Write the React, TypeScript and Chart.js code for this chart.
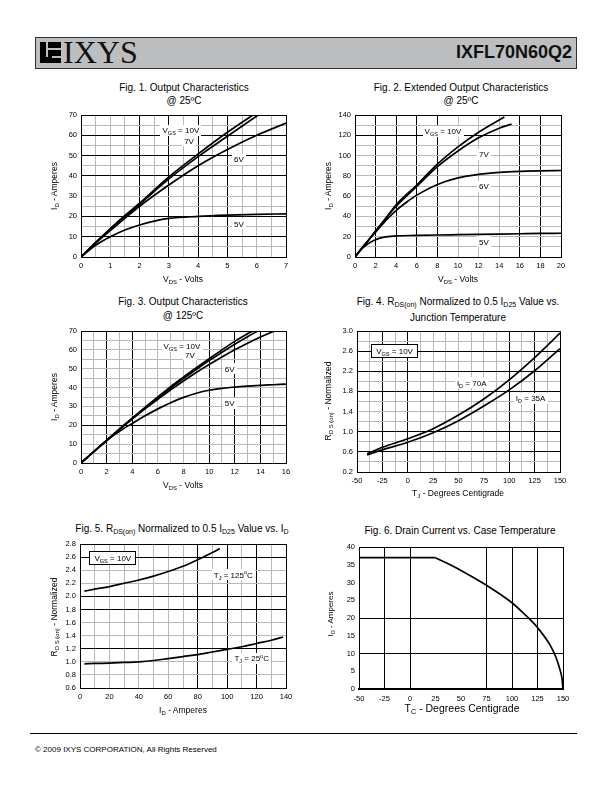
import React, { useEffect, useRef } from 'react';
import { Chart, registerables } from 'chart.js';

Chart.register(...registerables);

const FONT = "'Liberation Sans', Arial, Helvetica, sans-serif";
const GREY = '#b8b8b8';
const BLACK = '#000000';
const NONE = 'rgba(0,0,0,0)';

// ---------------- Fig. 1 Output characteristics @25C ----------------
const f1X10V = [0, 0.5, 1, 1.5, 2, 3, 4, 5, 5.87];
const f1Y10V = [0, 7.2, 14, 20.5, 26.5, 39.5, 50.8, 61.5, 70];
const f1X7V = [0, 0.5, 1, 1.5, 2, 3, 4, 5, 6.05];
const f1Y7V = [0, 7, 13.6, 20, 26, 38.5, 49.5, 59.5, 70];
const f1X6V = [0, 0.5, 1, 2, 3, 4, 5, 6, 7];
const f1Y6V = [0, 6.8, 13, 25, 35.5, 45, 53, 60, 66];
const f1X5V = [0, 0.5, 1, 1.5, 2, 2.5, 3, 4, 5, 6, 7];
const f1Y5V = [0, 5.8, 10, 13.3, 15.8, 17.7, 19, 20, 20.6, 21, 21.3];

// ---------------- Fig. 2 Extended output characteristics @25C ----------------
const f2X10V = [0, 1, 2, 3, 4, 6, 8, 10, 12, 14.5];
const f2Y10V = [0, 12.5, 25.5, 38.5, 51.5, 71, 91.5, 108.5, 123, 138];
const f2X7V = [0, 1, 2, 3, 4, 6, 8, 10, 12, 14, 15.2];
const f2Y7V = [0, 12.5, 25.5, 38, 50, 69.5, 89, 104.5, 117.5, 127, 131];
const f2X6V = [0, 1, 2, 3, 4, 5, 6, 8, 10, 12, 14, 16, 18, 20];
const f2Y6V = [0, 13, 24.5, 36, 46, 54, 61, 71.5, 78, 81.5, 83.5, 84.5, 85, 85.3];
const f2X5V = [0, 0.5, 1, 1.5, 2, 2.5, 3, 4, 6, 8, 10, 12, 14, 16, 18, 20];
const f2Y5V = [0, 6.5, 11, 14.5, 17, 18.8, 19.8, 20.8, 21.3, 21.7, 22, 22.3, 22.6, 22.9, 23.2, 23.4];

// ---------------- Fig. 3 Output characteristics @125C ----------------
const f3X10V = [0, 1, 2, 3, 4, 5, 6, 7, 8, 9, 10, 11, 12, 13, 13.4];
const f3Y10V = [0, 6, 12, 18, 23.8, 29.5, 35, 40.5, 45.5, 50.5, 55.3, 60, 64.5, 68.5, 70];
const f3X7V = [0, 1, 2, 3, 4, 5, 6, 7, 8, 9, 10, 11, 12, 13, 13.8];
const f3Y7V = [0, 6, 12, 18, 23.6, 29.2, 34.6, 39.8, 44.8, 49.6, 54.3, 58.7, 63, 67, 70];
const f3X6V = [0, 1, 2, 3, 4, 5, 6, 7, 8, 9, 10, 11, 12, 13, 14, 15.1];
const f3Y6V = [0, 6, 12, 17.8, 23.3, 28.7, 33.8, 38.8, 43.5, 48, 52.2, 56.2, 60, 63.5, 66.8, 70];
const f3X5V = [0, 1, 2, 3, 4, 5, 6, 7, 8, 9, 10, 11, 12, 13, 14, 15, 16];
const f3Y5V = [0, 6, 11.8, 16.8, 21, 25, 28.7, 32, 34.8, 37, 38.6, 39.6, 40.3, 40.8, 41.2, 41.5, 41.8];

// ---------------- Fig. 4 RDS(on) vs junction temperature ----------------
const f4Tj = [-40, -25, 0, 25, 50, 75, 100, 125, 150];
const f4R70A = [0.56, 0.69, 0.86, 1.06, 1.33, 1.65, 2.03, 2.47, 2.96];
const f4R35A = [0.54, 0.64, 0.79, 0.98, 1.22, 1.51, 1.83, 2.21, 2.65];

// ---------------- Fig. 5 RDS(on) vs ID ----------------
const f5Id125 = [3, 10, 20, 30, 40, 50, 60, 70, 80, 90, 95];
const f5R125 = [2.08, 2.11, 2.15, 2.2, 2.25, 2.31, 2.38, 2.46, 2.56, 2.67, 2.73];
const f5Id25 = [3, 10, 20, 30, 40, 50, 60, 70, 80, 90, 100, 110, 120, 130, 138];
const f5R25 = [0.97, 0.975, 0.98, 0.99, 1.0, 1.02, 1.05, 1.08, 1.11, 1.15, 1.19, 1.23, 1.28, 1.33, 1.38];

// ---------------- Fig. 6 Drain current vs case temperature ----------------
const f6TcFlat = [-50, 25];
const f6IdFlat = [37, 37];
const f6TcCurve = [25, 50, 75, 100, 112.5, 125, 137.5, 143, 147, 149, 150];
const f6IdCurve = [37, 33.4, 29.2, 24.3, 21, 17.3, 12.3, 9, 5.5, 3, 0];

// ---------------- types & helpers ----------------
type Seg = { t: string; sub?: boolean; sup?: boolean };
type Note = { x: number; y: number; parts: Seg[]; box?: boolean };
type AxisSpec = {
  min: number; max: number; step: number;
  labelStart: number; labelStep: number; decimals: number;
  black: number[]; grey: boolean;
};
type Curve = { xs: number[]; ys: number[]; straight?: boolean };
type PanelSpec = {
  rect: [number, number, number, number];
  x: AxisSpec; y: AxisSpec;
  curves: Curve[];
  notes: Note[];
  xBorder?: number;
  xPad?: number;
};

const near = (v: number, arr: number[]) => arr.some((a) => Math.abs(a - v) < 1e-6);
const isMult = (v: number, start: number, step: number) => {
  const k = (v - start) / step;
  return Math.abs(k - Math.round(k)) < 1e-6;
};

const vgs10: Seg[] = [{ t: 'V' }, { t: 'GS', sub: true }, { t: ' = 10V' }];

function axisOptions(a: AxisSpec, isX: boolean, size: number, pad: number, borderW: number) {
  return {
    type: 'linear',
    min: a.min,
    max: a.max,
    afterFit: (s: any) => {
      if (isX) s.height = size;
      else s.width = size;
    },
    border: { display: true, color: BLACK, width: borderW },
    grid: {
      drawTicks: false,
      lineWidth: 1,
      color: (c: any) => {
        const v = c.tick ? c.tick.value : undefined;
        if (v === undefined) return NONE;
        return near(v, a.black) ? BLACK : a.grey ? GREY : NONE;
      },
    },
    ticks: {
      stepSize: a.step,
      autoSkip: false,
      maxRotation: 0,
      minRotation: 0,
      padding: pad,
      color: BLACK,
      font: { family: FONT, size: 7.5 },
      callback: (v: any) => (isMult(Number(v), a.labelStart, a.labelStep) ? Number(v).toFixed(a.decimals) : ''),
    },
  };
}

function notesPlugin(notes: Note[]) {
  return {
    id: 'notes',
    afterDatasetsDraw(chart: any) {
      const ctx = chart.ctx;
      const xs = chart.scales.x;
      const ys = chart.scales.y;
      const FS = 8;
      const SS = 5.6;
      notes.forEach((n) => {
        const cx = xs.getPixelForValue(n.x);
        const cy = ys.getPixelForValue(n.y);
        ctx.save();
        const widths = n.parts.map((p) => {
          ctx.font = `${p.sub || p.sup ? SS : FS}px ${FONT}`;
          return ctx.measureText(p.t).width;
        });
        const tw = widths.reduce((s, w) => s + w, 0);
        const padX = n.box ? 5 : 2;
        const padY = n.box ? 3 : 1.5;
        const x0 = Math.round(cx - tw / 2 - padX);
        const y0 = Math.round(cy - FS / 2 - padY);
        const bw = Math.round(tw + 2 * padX);
        const bh = Math.round(FS + 2 * padY);
        ctx.fillStyle = '#ffffff';
        ctx.fillRect(x0, y0, bw, bh);
        if (n.box) {
          ctx.strokeStyle = BLACK;
          ctx.lineWidth = 1;
          ctx.strokeRect(x0 + 0.5, y0 + 0.5, bw - 1, bh - 1);
        }
        ctx.fillStyle = BLACK;
        ctx.textAlign = 'left';
        ctx.textBaseline = 'alphabetic';
        let x = cx - tw / 2;
        const base = cy + FS * 0.36;
        n.parts.forEach((p, i) => {
          ctx.font = `${p.sub || p.sup ? SS : FS}px ${FONT}`;
          const dy = p.sub ? 2 : p.sup ? -3.5 : 0;
          ctx.fillText(p.t, x, base + dy);
          x += widths[i];
        });
        ctx.restore();
      });
    },
  };
}

function Panel({ spec }: { spec: PanelSpec }) {
  const ref = useRef<HTMLCanvasElement>(null);
  const [L, T, R, B] = spec.rect;
  const YW = 40;
  const XH = 22;
  const PT = 10;
  const PR = 14;
  const w = R - L + YW + PR;
  const h = B - T + PT + XH;
  useEffect(() => {
    const chart = new Chart(ref.current as HTMLCanvasElement, {
      type: 'scatter',
      data: {
        datasets: spec.curves.map((c) => ({
          data: c.xs.map((x, i) => ({ x, y: c.ys[i] })),
          showLine: true,
          borderColor: BLACK,
          backgroundColor: BLACK,
          borderWidth: 1.7,
          pointRadius: 0,
          pointHoverRadius: 0,
          cubicInterpolationMode: c.straight ? 'default' : 'monotone',
          tension: c.straight ? 0 : 0.4,
          fill: false,
        })),
      },
      options: {
        responsive: false,
        maintainAspectRatio: false,
        animation: false,
        devicePixelRatio: 1,
        events: [],
        layout: { padding: { top: PT, right: PR, left: 0, bottom: 0 } },
        plugins: { legend: { display: false }, tooltip: { enabled: false }, title: { display: false } },
        scales: {
          x: axisOptions(spec.x, true, XH, spec.xPad ?? 4, spec.xBorder ?? 1),
          y: axisOptions(spec.y, false, YW, 4, 1),
        },
      } as any,
      plugins: [notesPlugin(spec.notes)],
    } as any);
    return () => chart.destroy();
  }, []);
  return (
    <canvas
      ref={ref}
      width={w}
      height={h}
      style={{ position: 'absolute', left: L - YW, top: T - PT, width: w, height: h }}
    />
  );
}

function Rich({ parts, x, y, size = 9, rotate = false, align = 'center' }: { parts: Seg[]; x: number; y: number; size?: number; rotate?: boolean; align?: string }) {
  const tx = align === 'left' ? '0' : '-50%';
  return (
    <div
      style={{
        position: 'absolute',
        left: x,
        top: y,
        transform: `translate(${tx},-50%)${rotate ? ' rotate(-90deg)' : ''}`,
        fontFamily: FONT,
        fontSize: size,
        whiteSpace: 'nowrap',
        lineHeight: 1,
        color: '#000',
      }}
    >
      {parts.map((p, i) =>
        p.sub ? (
          <span key={i} style={{ fontSize: '0.7em', position: 'relative', top: '0.3em' }}>{p.t}</span>
        ) : p.sup ? (
          <span key={i} style={{ fontSize: '0.7em', position: 'relative', top: '-0.45em' }}>{p.t}</span>
        ) : (
          <span key={i}>{p.t}</span>
        )
      )}
    </div>
  );
}

const fig1: PanelSpec = {
  rect: [81, 115, 286, 257],
  x: { min: 0, max: 7, step: 0.5, labelStart: 0, labelStep: 1, decimals: 0, black: [2, 3, 4, 5, 7], grey: true },
  y: { min: 0, max: 70, step: 5, labelStart: 0, labelStep: 10, decimals: 0, black: [10, 20, 40, 50, 60, 70], grey: true },
  curves: [
    { xs: f1X10V, ys: f1Y10V },
    { xs: f1X7V, ys: f1Y7V },
    { xs: f1X6V, ys: f1Y6V },
    { xs: f1X5V, ys: f1Y5V },
  ],
  notes: [
    { x: 3.41, y: 62.6, parts: vgs10 },
    { x: 3.69, y: 57.2, parts: [{ t: '7V' }] },
    { x: 5.39, y: 48.3, parts: [{ t: '6V' }] },
    { x: 5.39, y: 16.3, parts: [{ t: '5V' }] },
  ],
};

const fig2: PanelSpec = {
  rect: [355, 115, 561, 257],
  x: { min: 0, max: 20, step: 2, labelStart: 0, labelStep: 2, decimals: 0, black: [2, 4, 6, 8, 16, 18, 20], grey: true },
  y: { min: 0, max: 140, step: 10, labelStart: 0, labelStep: 20, decimals: 0, black: [120, 140], grey: true },
  curves: [
    { xs: f2X10V, ys: f2Y10V },
    { xs: f2X7V, ys: f2Y7V },
    { xs: f2X6V, ys: f2Y6V },
    { xs: f2X5V, ys: f2Y5V },
  ],
  notes: [
    { x: 8.54, y: 124.2, parts: vgs10 },
    { x: 12.52, y: 101.5, parts: [{ t: '7V' }] },
    { x: 12.52, y: 70, parts: [{ t: '6V' }] },
    { x: 12.52, y: 14.8, parts: [{ t: '5V' }] },
  ],
};

const fig3: PanelSpec = {
  rect: [81, 331, 286, 463],
  x: { min: 0, max: 16, step: 1, labelStart: 0, labelStep: 2, decimals: 0, black: [2, 4, 10, 12, 14, 16], grey: true },
  y: { min: 0, max: 70, step: 5, labelStart: 0, labelStep: 10, decimals: 0, black: [20, 70], grey: true },
  curves: [
    { xs: f3X10V, ys: f3Y10V },
    { xs: f3X7V, ys: f3Y7V },
    { xs: f3X6V, ys: f3Y6V },
    { xs: f3X5V, ys: f3Y5V },
  ],
  notes: [
    { x: 7.88, y: 62, parts: vgs10 },
    { x: 8.5, y: 57.3, parts: [{ t: '7V' }] },
    { x: 11.6, y: 49.9, parts: [{ t: '6V' }] },
    { x: 11.6, y: 31.8, parts: [{ t: '5V' }] },
  ],
};

const fig4: PanelSpec = {
  rect: [357, 331, 560, 472],
  x: { min: -50, max: 150, step: 12.5, labelStart: -50, labelStep: 25, decimals: 0, black: [-25, 0, 100, 125, 150], grey: true },
  y: { min: 0.2, max: 3.0, step: 0.2, labelStart: 0.2, labelStep: 0.4, decimals: 1, black: [0.6, 1.0, 1.8, 2.2, 2.6, 3.0], grey: true },
  curves: [
    { xs: f4Tj, ys: f4R70A },
    { xs: f4Tj, ys: f4R35A },
  ],
  notes: [
    { x: -13, y: 2.6, parts: vgs10, box: true },
    { x: 63, y: 1.97, parts: [{ t: 'I' }, { t: 'D', sub: true }, { t: ' = 70A' }] },
    { x: 121, y: 1.66, parts: [{ t: 'I' }, { t: 'D', sub: true }, { t: ' = 35A' }] },
  ],
};

const fig5: PanelSpec = {
  rect: [80, 544, 286, 688],
  x: { min: 0, max: 140, step: 10, labelStart: 0, labelStep: 20, decimals: 0, black: [80, 100, 120, 140], grey: true },
  y: { min: 0.6, max: 2.8, step: 0.2, labelStart: 0.6, labelStep: 0.2, decimals: 1, black: [1.2, 1.8, 2.0, 2.6, 2.8], grey: true },
  curves: [
    { xs: f5Id125, ys: f5R125 },
    { xs: f5Id25, ys: f5R25 },
  ],
  notes: [
    { x: 22.3, y: 2.58, parts: vgs10, box: true },
    { x: 104.2, y: 2.33, parts: [{ t: 'T' }, { t: 'J', sub: true }, { t: ' = 125' }, { t: 'o', sup: true }, { t: 'C' }] },
    { x: 116.7, y: 1.05, parts: [{ t: 'T' }, { t: 'J', sub: true }, { t: ' = 25' }, { t: 'o', sup: true }, { t: 'C' }] },
  ],
};

const fig6: PanelSpec = {
  rect: [359, 547, 563, 689],
  x: { min: -50, max: 150, step: 25, labelStart: -50, labelStep: 25, decimals: 0, black: [-25, 0, 75, 100, 125, 150], grey: false },
  y: { min: 0, max: 40, step: 5, labelStart: 0, labelStep: 5, decimals: 0, black: [10, 20, 40], grey: false },
  curves: [
    { xs: f6TcFlat, ys: f6IdFlat, straight: true },
    { xs: f6TcCurve, ys: f6IdCurve },
  ],
  notes: [],
  xBorder: 2,
  xPad: 5,
};

const rdson: Seg[] = [{ t: 'R' }, { t: 'D S (on)', sub: true }, { t: ' - Normalized' }];
const idAmp: Seg[] = [{ t: 'I' }, { t: 'D', sub: true }, { t: ' - Amperes' }];
const vdsVolts: Seg[] = [{ t: 'V' }, { t: 'DS', sub: true }, { t: ' - Volts' }];

export default function App() {
  return (
    <div style={{ position: 'absolute', left: 0, top: 0, width: 612, height: 792, background: '#fff', overflow: 'hidden' }}>
      {/* header */}
      <div style={{ position: 'absolute', left: 35, top: 37, width: 542, height: 32, background: '#bcbec0', border: '1px solid #333', boxSizing: 'border-box' }} />
      <div style={{ position: 'absolute', left: 40, top: 42, width: 21, height: 21, background: '#000' }} />
      <div style={{ position: 'absolute', left: 46, top: 42, width: 2, height: 15, background: '#bcbec0' }} />
      <div style={{ position: 'absolute', left: 46, top: 48, width: 15, height: 2, background: '#bcbec0' }} />
      <div style={{ position: 'absolute', left: 52, top: 56, width: 9, height: 2, background: '#bcbec0' }} />
      <div style={{ position: 'absolute', left: 63, top: 36, fontFamily: "'Liberation Serif', 'Times New Roman', serif", fontSize: 32, lineHeight: '32px', color: '#111' }}>IXYS</div>
      <div style={{ position: 'absolute', right: 40, top: 43, fontFamily: FONT, fontWeight: 'bold', fontSize: 18, lineHeight: '18px', color: '#111' }}>IXFL70N60Q2</div>

      {/* titles */}
      <Rich x={184} y={88} size={10} parts={[{ t: 'Fig. 1. Output Characteristics' }]} />
      <Rich x={184} y={101} size={10} parts={[{ t: '@ 25ºC' }]} />
      <Rich x={461} y={88} size={10} parts={[{ t: 'Fig. 2. Extended Output Characteristics' }]} />
      <Rich x={461} y={101} size={10} parts={[{ t: '@ 25ºC' }]} />
      <Rich x={183} y={302} size={10} parts={[{ t: 'Fig. 3. Output Characteristics' }]} />
      <Rich x={183} y={316} size={10} parts={[{ t: '@ 125ºC' }]} />
      <Rich x={458} y={302} size={10} parts={[{ t: 'Fig. 4. R' }, { t: 'DS(on)', sub: true }, { t: ' Normalized to 0.5 I' }, { t: 'D25', sub: true }, { t: ' Value vs.' }]} />
      <Rich x={458} y={318} size={10} parts={[{ t: 'Junction Temperature' }]} />
      <Rich x={182} y={529} size={10} parts={[{ t: 'Fig. 5. R' }, { t: 'DS(on)', sub: true }, { t: ' Normalized to 0.5 I' }, { t: 'D25', sub: true }, { t: ' Value vs. I' }, { t: 'D', sub: true }]} />
      <Rich x={460} y={531} size={10} parts={[{ t: 'Fig. 6. Drain Current vs. Case Temperature' }]} />

      {/* charts */}
      <Panel spec={fig1} />
      <Panel spec={fig2} />
      <Panel spec={fig3} />
      <Panel spec={fig4} />
      <Panel spec={fig5} />
      <Panel spec={fig6} />

      {/* axis titles */}
      <Rich x={183} y={279} size={8.5} parts={vdsVolts} />
      <Rich x={54} y={186} size={8.5} rotate parts={idAmp} />
      <Rich x={458} y={279} size={8.5} parts={vdsVolts} />
      <Rich x={328} y={186} size={8.5} rotate parts={idAmp} />
      <Rich x={183} y={485} size={8.5} parts={vdsVolts} />
      <Rich x={54} y={397} size={8.5} rotate parts={idAmp} />
      <Rich x={458} y={493} size={8.5} parts={[{ t: 'T' }, { t: 'J', sub: true }, { t: ' - Degrees Centigrade' }]} />
      <Rich x={328} y={401} size={8.5} rotate parts={rdson} />
      <Rich x={183} y={710} size={8.5} parts={idAmp} />
      <Rich x={54} y={617} size={8.5} rotate parts={rdson} />
      <Rich x={462} y={708} size={10.5} parts={[{ t: 'T' }, { t: 'C', sub: true }, { t: ' - Degrees Centigrade' }]} />
      <Rich x={331} y={614} size={8} rotate parts={idAmp} />

      {/* footer */}
      <div style={{ position: 'absolute', left: 30, top: 733, width: 547, height: 1, background: '#000' }} />
      <Rich x={35} y={750} size={8} align="left" parts={[{ t: '© 2009 IXYS CORPORATION, All Rights Reserved' }]} />
    </div>
  );
}
